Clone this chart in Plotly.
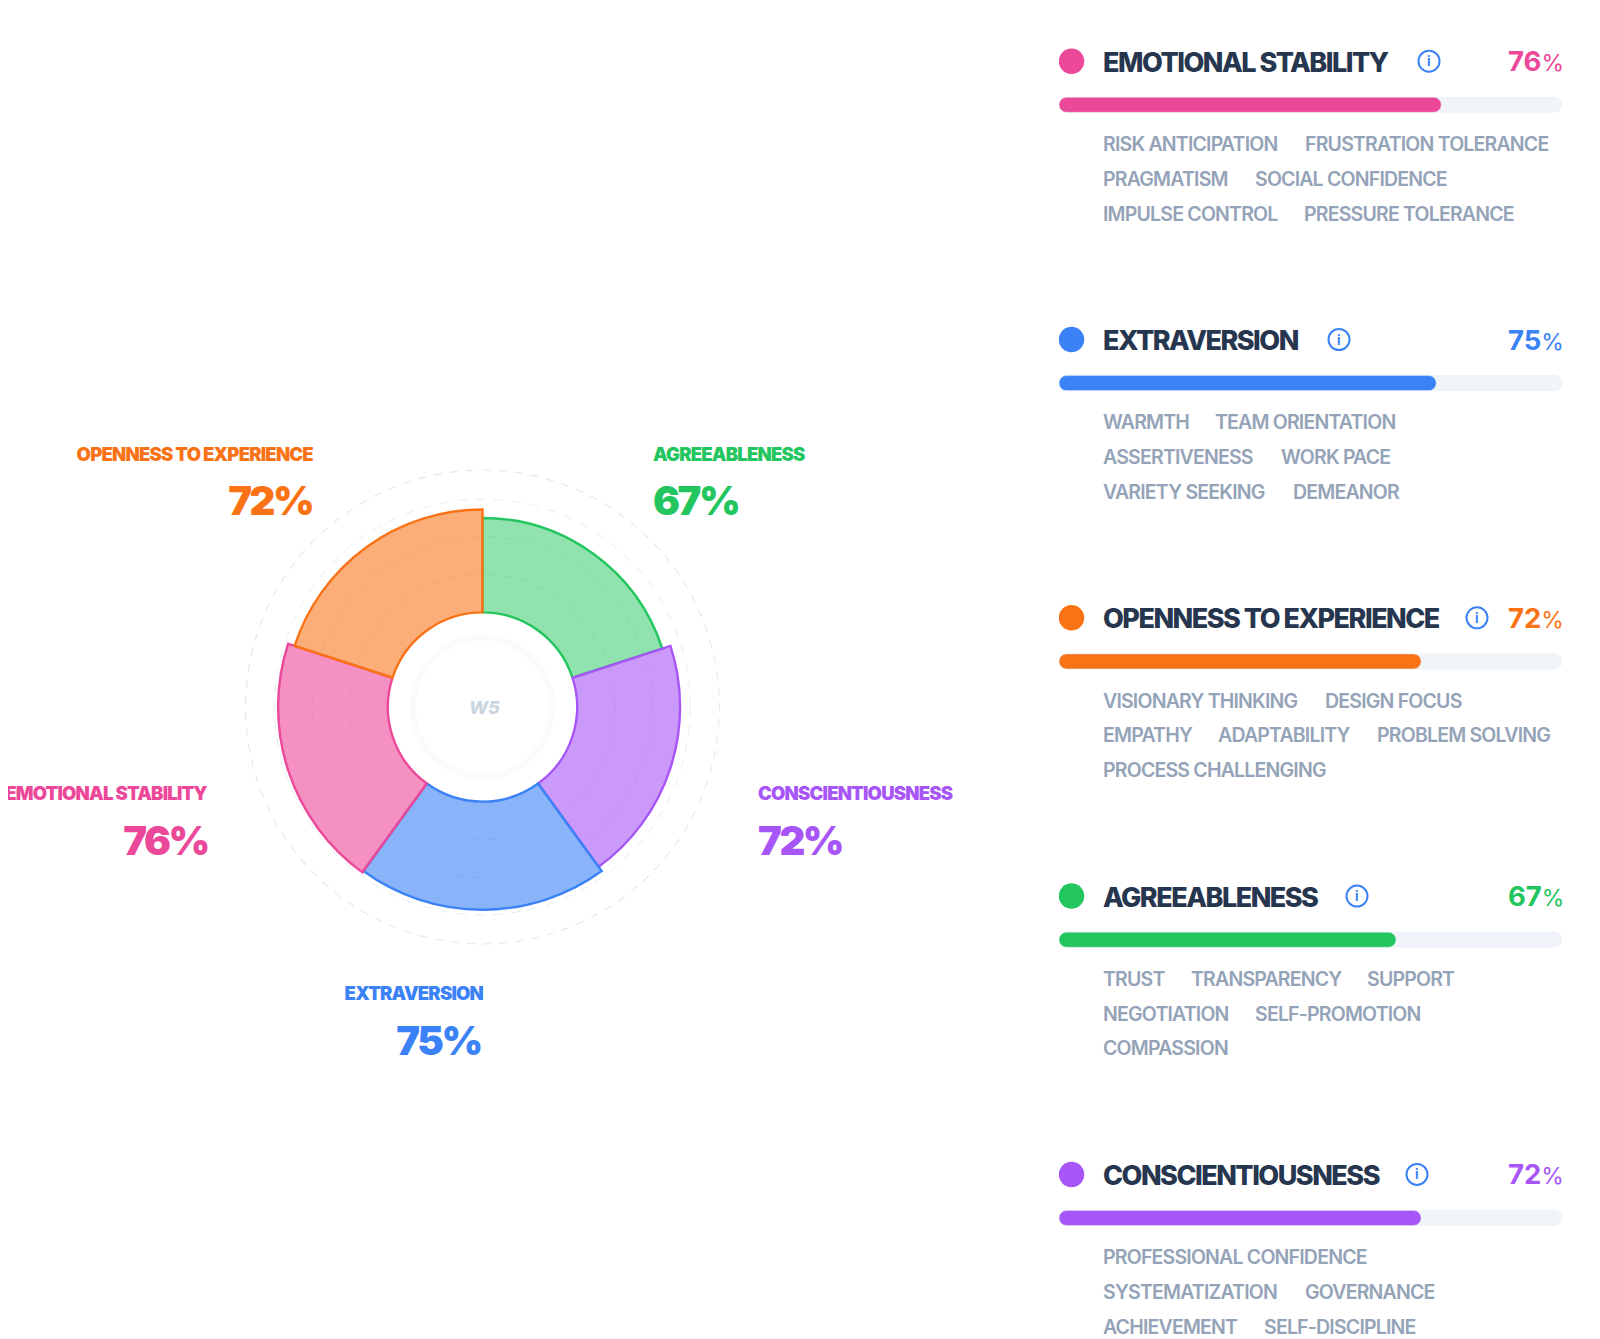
import plotly.graph_objects as go

# values
traits = ["AGREEABLENESS", "CONSCIENTIOUSNESS", "EXTRAVERSION", "EMOTIONAL STABILITY", "OPENNESS TO EXPERIENCE"]
scores = [67, 72, 75, 76, 72]
colors = ["#22c55e", "#a855f7", "#3b82f6", "#ec4899", "#f97316"]
fills = ["rgba(34,197,94,0.5)", "rgba(168,85,247,0.6)", "rgba(59,130,246,0.6)", "rgba(236,72,153,0.6)", "rgba(249,115,22,0.58)"]

panel_traits = ["EMOTIONAL STABILITY", "EXTRAVERSION", "OPENNESS TO EXPERIENCE", "AGREEABLENESS", "CONSCIENTIOUSNESS"]
panel_scores = [76, 75, 72, 67, 72]
panel_colors = ["#ec4899", "#3b82f6", "#f97316", "#22c55e", "#a855f7"]
panel_tags = [
    [["RISK ANTICIPATION", "FRUSTRATION TOLERANCE"], ["PRAGMATISM", "SOCIAL CONFIDENCE"], ["IMPULSE CONTROL", "PRESSURE TOLERANCE"]],
    [["WARMTH", "TEAM ORIENTATION"], ["ASSERTIVENESS", "WORK PACE"], ["VARIETY SEEKING", "DEMEANOR"]],
    [["VISIONARY THINKING", "DESIGN FOCUS"], ["EMPATHY", "ADAPTABILITY", "PROBLEM SOLVING"], ["PROCESS CHALLENGING"]],
    [["TRUST", "TRANSPARENCY", "SUPPORT"], ["NEGOTIATION", "SELF-PROMOTION"], ["COMPASSION"]],
    [["PROFESSIONAL CONFIDENCE"], ["SYSTEMATIZATION", "GOVERNANCE"], ["ACHIEVEMENT", "SELF-DISCIPLINE"]],
]

# page layout, pixels
tag_x = [
    [[1102, 1304], [1102, 1254], [1102, 1303]],
    [[1102, 1214], [1102, 1280], [1102, 1292]],
    [[1102, 1324], [1102, 1217, 1376], [1102]],
    [[1102, 1190, 1366], [1102, 1254], [1102]],
    [[1102], [1102, 1304], [1102, 1263]],
]
tag_dy = [82.7, 117.4, 152.3]
icon_x = [1429, 1339, 1477, 1357, 1417]
W, H, LEFT = 1600, 1339, 8
CX, CY = 482.5, 707
TRACK_L, TRACK_R = 1059, 1562
HEAD0, ROW_STEP, BAR_DY = 61.2, 278.3, 43.6
BAR_H = 15

HOLE = 11.7
RINGS = [34, 56, 78]
OUTER_RING = 95.1
MARK_RING = -3
R_MIN, R_MAX = -43.75, 95.6
R = 237 * (R_MAX - R_MIN) / (OUTER_RING - R_MIN)
CIRCLE = list(range(0, 363, 3))
FONT = "Inter"


def px(x):
    return (x - LEFT) / (W - LEFT)


def py(y):
    return 1 - y / H


def ux(x):
    return 100 * (x - TRACK_L) / (TRACK_R - TRACK_L)


fig = go.Figure()

# dashed outer ring, the radial grid leaves it out
fig.add_trace(go.Scatterpolar(
    r=[OUTER_RING] * len(CIRCLE), theta=CIRCLE, mode="lines",
    line=dict(color="#e2e8f0", width=1.2, dash="8px,8px"), hoverinfo="skip",
))

fig.add_trace(go.Barpolar(
    r=[s - HOLE for s in scores],
    base=HOLE,
    theta=[36, 108, 180, 252, 324],
    width=72,
    marker=dict(color=fills, line=dict(color=colors, width=2.4)),
    hoverinfo="skip",
))

# faint ring round the W5 mark
fig.add_trace(go.Scatterpolar(
    r=[MARK_RING] * len(CIRCLE), theta=CIRCLE, mode="lines",
    line=dict(color="#fafbfc", width=6), hoverinfo="skip",
))

rows = list(range(5))
fig.add_trace(go.Bar(
    x=[100] * 5, y=rows, base=[0] * 5, orientation="h", width=BAR_H / ROW_STEP,
    marker=dict(color="#f1f5f9", cornerradius=8), hoverinfo="skip",
))
fig.add_trace(go.Bar(
    x=panel_scores, y=rows, base=[0] * 5, orientation="h", width=BAR_H / ROW_STEP,
    marker=dict(color=panel_colors, cornerradius=8), hoverinfo="skip",
))
# header dots
head_rows = [r - BAR_DY / ROW_STEP for r in rows]
fig.add_trace(go.Scatter(
    x=[ux(1071.5)] * 5, y=head_rows, mode="markers",
    marker=dict(color=panel_colors, size=25.5, line=dict(width=0)), hoverinfo="skip",
))
# info icons
fig.add_trace(go.Scatter(
    x=[ux(v) for v in icon_x], y=head_rows, mode="markers",
    marker=dict(symbol="circle-open", color="#3b82f6", size=21, line=dict(width=2, color="#3b82f6")),
    hoverinfo="skip",
))

ann = []


def label(text, x, y, size, color, anchor="left", weight=700):
    ann.append(dict(
        text=text, x=px(x), y=py(y), xref="paper", yref="paper", showarrow=False,
        xanchor=anchor, yanchor="middle", align=anchor, borderpad=0,
        font=dict(family=FONT, size=size, color=color, weight=weight),
    ))


# donut labels
chart_labels = [
    ("OPENNESS TO EXPERIENCE", 314.2, 454, 313, 501, "right"),
    ("AGREEABLENESS", 652, 454, 652, 501, "left"),
    ("CONSCIENTIOUSNESS", 756.5, 793, 756.5, 840, "left"),
    ("EMOTIONAL STABILITY", 208, 793, 209, 840, "right"),
    ("EXTRAVERSION", 483.7, 993, 482, 1040, "right"),
]
for name, x, y, vx, vy, anchor in chart_labels:
    i = traits.index(name)
    label(name, x, y, 18.5, colors[i], anchor, 900)
    label(f"{scores[i]}%", vx, vy, 40, colors[i], anchor, 900)

label("<i>W5</i>", 484.7, 707, 18, "#cbd5e1", "center", 800)

# right hand panel
for i, name in enumerate(panel_traits):
    head_y = HEAD0 + ROW_STEP * i
    c = panel_colors[i]
    label(name, 1102, head_y + 1, 27, "#27364f", "left", 800)
    label("i", icon_x[i], head_y, 13, "#3b82f6", "center", 700)
    label(f'{panel_scores[i]}<span style="font-size:23px;font-weight:400">%</span>', 1565, head_y, 27.5, c, "right", 700)
    for j, line in enumerate(panel_tags[i]):
        for k, tag in enumerate(line):
            label(tag, tag_x[i][j][k], head_y + tag_dy[j], 19.5, "#94a3b8", "left", 600)

fig.update_layout(
    width=W - LEFT,
    height=H,
    autosize=False,
    margin=dict(l=0, r=0, t=0, b=0),
    paper_bgcolor="white",
    plot_bgcolor="white",
    showlegend=False,
    barmode="overlay",
    annotations=ann,
    polar=dict(
        domain=dict(x=[px(CX - R), px(CX + R)], y=[py(CY + R), py(CY - R)]),
        bgcolor="rgba(0,0,0,0)",
        radialaxis=dict(
            range=[R_MIN, R_MAX], tickvals=RINGS, showticklabels=False, ticks="",
            showline=False, gridcolor="#e8edf2", griddash="dash", gridwidth=1,
        ),
        angularaxis=dict(
            direction="clockwise", rotation=90, showticklabels=False, ticks="",
            showline=False, showgrid=False,
        ),
    ),
    xaxis=dict(domain=[px(TRACK_L), px(TRACK_R)], range=[0, 100], visible=False),
    yaxis=dict(
        domain=[0, 1],
        range=[(H - HEAD0 - BAR_DY) / ROW_STEP, -(HEAD0 + BAR_DY) / ROW_STEP],
        visible=False,
    ),
)

# tighter tracking, plotly has no letter spacing setting
post = """
document.body.style.margin='0 0 0 8px';document.body.style.overflow='hidden';
var sp={'18.5px':'-0.8px','40px':'-2.4px','27px':'-1.5px','19.5px':'-0.8px'};
document.querySelectorAll('.annotation-text').forEach(function(t){
  var s=sp[t.style.fontSize]; if(s){t.style.letterSpacing=s;}
});
"""
fig.write_html("out.html", post_script=post)
